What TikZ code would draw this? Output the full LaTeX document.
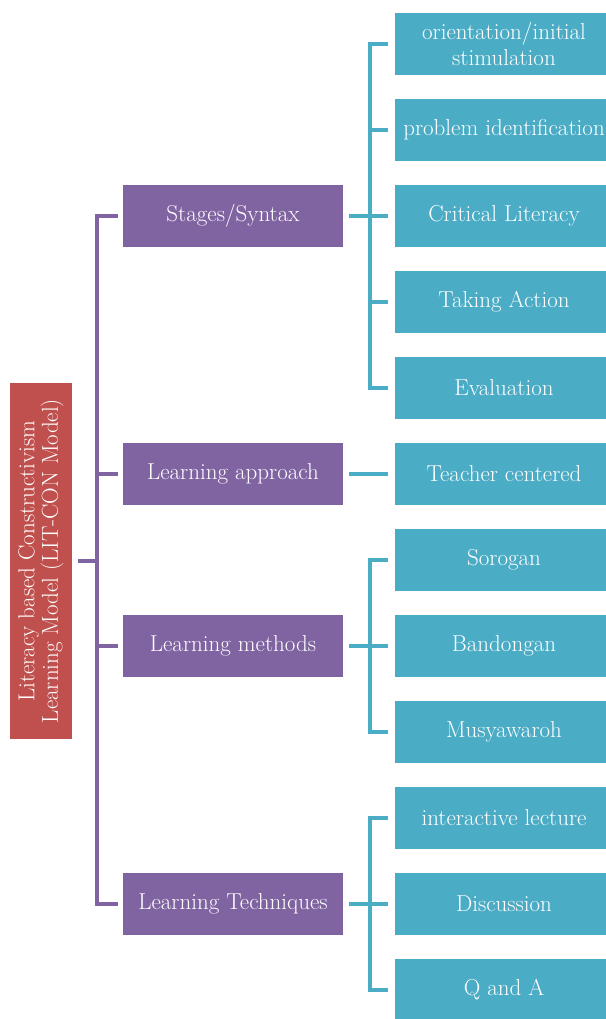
\documentclass[tikz,border=0pt]{standalone}
\usepackage{fontspec}
\usepackage{tikz}
\usetikzlibrary{calc}
\definecolor{rootred}{HTML}{C0504D}
\definecolor{levelpurple}{HTML}{8064A2}
\definecolor{leafteal}{HTML}{4BACC6}
\tikzset{
  box/.style={text=white, font=\fontsize{23}{26}\selectfont, inner sep=0pt, align=center},
  rootbox/.style={box, fill=rootred, rotate=90, minimum width=356, minimum height=62, font=\fontsize{23}{23.5}\selectfont},
  levelbox/.style={box, fill=levelpurple, minimum width=220, minimum height=62},
  leafbox/.style={box, fill=leafteal, minimum width=218, minimum height=62},
  purpleline/.style={draw=levelpurple, line width=4pt},
  tealline/.style={draw=leafteal, line width=4pt},
}
\begin{document}
\begin{tikzpicture}[x=1pt,y=-1pt]
\useasboundingbox (0,0) rectangle (605,1019);
% root
\node[rootbox] (root) at (41,561) {Literacy based Constructivism\\Learning Model (LIT-CON Model)};
% second level
\node[levelbox] (stages) at (233,216) {Stages/Syntax};
\node[levelbox] (approach) at (233,474) {Learning approach};
\node[levelbox] (methods) at (233,646) {Learning methods};
\node[levelbox] (techniques) at (233,904) {Learning Techniques};
% leaves
\node[leafbox] (orient) at (504,44) {orientation/initial\\stimulation};
\node[leafbox] (problem) at (504,130) {problem identification};
\node[leafbox] (critical) at (504,216) {Critical Literacy};
\node[leafbox] (action) at (504,302) {Taking Action};
\node[leafbox] (evaluation) at (504,388) {Evaluation};
\node[leafbox] (teacher) at (504,474) {Teacher centered};
\node[leafbox] (sorogan) at (504,560) {Sorogan};
\node[leafbox] (bandongan) at (504,646) {Bandongan};
\node[leafbox] (musyawaroh) at (504,732) {Musyawaroh};
\node[leafbox] (lecture) at (504,818) {interactive lecture};
\node[leafbox] (discussion) at (504,904) {Discussion};
\node[leafbox] (qanda) at (504,990) {Q and A};
% purple bracket
\draw[purpleline] ([xshift=6]root.south) -- ($(root.south)+(25,0)$);
\draw[purpleline] ([xshift=-5]stages.west) -| ([xshift=-26]techniques.west) -- ([xshift=-5]techniques.west);
\foreach \n in {approach,methods}
  \draw[purpleline] ([xshift=-26]\n.west) -- ([xshift=-5]\n.west);
% teal brackets
\foreach \p/\a/\b in {stages/orient/evaluation, methods/sorogan/musyawaroh, techniques/lecture/qanda}
  \draw[tealline] ([xshift=-7]\a.west) -| ([xshift=-25]\b.west) -- ([xshift=-7]\b.west);
\foreach \p/\c in {stages/problem, stages/critical, stages/action, methods/bandongan, techniques/discussion}
  \draw[tealline] ([xshift=-25]\c.west) -- ([xshift=-7]\c.west);
\foreach \p/\c in {stages/critical, methods/bandongan, techniques/discussion}
  \draw[tealline] ([xshift=6]\p.east) -- ([xshift=-25]\c.west);
\draw[tealline] ([xshift=6]approach.east) -- ([xshift=-7]teacher.west);
\end{tikzpicture}
\end{document}
